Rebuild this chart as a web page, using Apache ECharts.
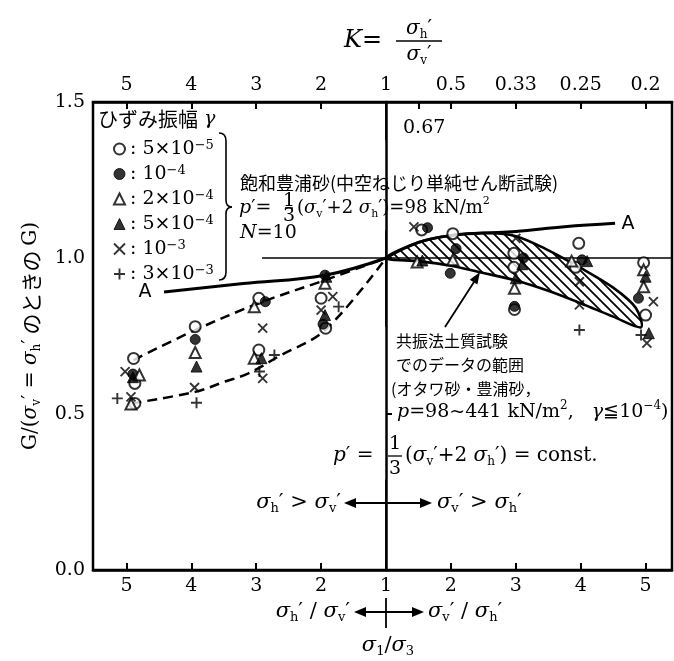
<!DOCTYPE html>
<html>
<head>
<meta charset="utf-8">
<script src="https://cdn.jsdelivr.net/npm/echarts@6/dist/echarts.min.js"></script>
<style>html,body{margin:0;padding:0;background:#fff}#c{width:674px;height:661px}</style>
</head>
<body>
<div id="c"></div>
<script>
const SERIF = "'DejaVu Serif','Liberation Serif',serif";
const JP = "'Noto Sans CJK JP',sans-serif";

// Horizontal axis: stress-ratio positions (left: sigma_h'/sigma_v', right: sigma_v'/sigma_h')
const tickPositions = [-4, -3, -2, -1, 0, 1, 2, 3, 4];
const bottomTickLabels = ['5', '4', '3', '2', '1', '2', '3', '4', '5'];
const topTickLabels = ['5', '4', '3', '2', '1', '0.5', '0.33', '0.25', '0.2'];
const extraTopTick = 0.5;
const extraTopLabel = '0.67';
const yTickLabels = ['0.0', '0.5', '1.0', '1.5'];

// Strain amplitude groups
const strainNames = ['5×10^-5', '10^-4', '2×10^-4', '5×10^-4', '10^-3', '3×10^-3'];
const strainRich = ['5×10{e|−5}', '10{e|−4}', '2×10{e|−4}', '5×10{e|−4}', '10{e|−3}', '3×10{e|−3}'];

// Measured G / G(K=1), hollow torsional simple shear, saturated Toyoura sand
const gamma5e5 = [[-3.89,0.678],[-3.87,0.598],[-3.87,0.534],[-2.94,0.78],[-1.96,0.871],[-1.96,0.705],[-1.0,0.871],[-0.93,0.775],[0.55,1.09],[1.03,1.078],[1.97,1.015],[1.97,0.97],[1.98,0.835],[2.97,1.047],[2.92,0.97],[3.97,0.985],[4.0,0.817]];
const gamma1e4 = [[-3.9,0.628],[-2.94,0.739],[-1.86,0.86],[-0.94,0.945],[-0.97,0.788],[0.64,1.097],[1.08,1.03],[0.99,0.951],[2.12,1.0],[1.98,0.845],[3.02,0.994],[3.89,0.871]];
const gamma2e4 = [[-3.8,0.625],[-3.93,0.532],[-2.94,0.697],[-2.03,0.844],[-2.03,0.679],[-0.94,0.919],[0.48,0.987],[1.03,0.994],[1.98,0.903],[2.86,0.99],[3.97,0.962],[3.97,0.908]];
const gamma5e4 = [[-3.9,0.618],[-2.92,0.652],[-1.92,0.679],[-0.92,0.94],[-0.94,0.817],[0.56,0.992],[2.1,0.98],[2.0,0.935],[3.1,0.99],[4.0,0.94],[4.05,0.759]];
const gamma1e3 = [[-4.02,0.636],[-3.93,0.555],[-2.95,0.585],[-1.9,0.775],[-1.9,0.614],[-0.82,0.876],[-1.0,0.833],[0.43,1.1],[2.0,1.063],[2.98,0.924],[2.98,0.85],[4.12,0.86],[4.02,0.727]];
const gamma3e3 = [[-4.14,0.55],[-2.92,0.536],[-1.72,0.689],[-1.95,0.636],[-0.73,0.844],[2.98,0.769],[3.93,0.753]];

// Dashed envelopes on the sigma_h' > sigma_v' side
const upperDashed = [[-3.89,0.673],[-2.94,0.769],[-1.96,0.855],[-0.94,0.929],[0,1.0]];
const lowerDashed = [[-3.92,0.534],[-2.94,0.571],[-2.48,0.604],[-2.12,0.63],[-1.66,0.684],[-0.94,0.769],[0,1.0]];

// Curve A
const curveALeft = [[-3.42,0.891],[-2.2,0.918],[-0.94,0.945],[0,1.0]];
const curveARight = [[0,1.0],[0.5,1.05],[1.0,1.072],[1.5,1.08],[2.0,1.085],[2.75,1.1],[3.53,1.111]];

// Range of resonant-column data (hatched band)
const bandUpper = [[0,1.0],[0.5,1.05],[1.0,1.072],[1.5,1.08],[2.0,1.07],[2.45,1.03],[3.0,0.968],[3.5,0.905],[3.85,0.84],[3.93,0.778]];
const bandLower = [[0,1.0],[0.5,0.99],[1.0,0.975],[1.5,0.952],[2.0,0.928],[2.5,0.895],[3.0,0.855],[3.5,0.812],[3.93,0.778]];

// Reference lines
const unityLine = [[-1.91,1.0],[4.407,1.0]];
const centerSegments = [[[0,1.5],[0,1.378]], [[0,1.088],[0,0.78]], [[0,0.29],[0,0]]];

const X_MIN = -4.515, X_MAX = 4.407;

// rich text styles (fill for graphic elements, color for option labels)
function richSet(base, jp) {
  const b = base || 19;
  const js = jp || b - 1;
  return {
    t: {fill:'#000', color:'#000', fontFamily:SERIF, fontSize:b, lineHeight:24},
    i: {fill:'#000', color:'#000', fontFamily:SERIF, fontStyle:'italic', fontSize:b, lineHeight:24},
    sb: {fill:'#000', color:'#000', fontFamily:SERIF, fontSize:Math.round(b*0.62), lineHeight:13, verticalAlign:'bottom'},
    sp: {fill:'#000', color:'#000', fontFamily:SERIF, fontSize:Math.round(b*0.62), lineHeight:13, verticalAlign:'top'},
    j: {fill:'#000', color:'#000', fontFamily:JP, fontSize:js, lineHeight:24},
    e: {fill:'#000', color:'#000', fontFamily:SERIF, fontSize:11, lineHeight:11, verticalAlign:'top'}
  };
}
const GR = richSet(19);
const sig = (s) => `{i|σ}{sb|${s}}{t|′}`;

function txt(x, y, text, align, rich) {
  return {type:'text', x:x, y:y, silent:true, z:50,
    style:{text:text, rich:rich || GR, align:align || 'left', verticalAlign:'middle', fill:'#000', font:`19px ${SERIF}`}};
}
function seg(x1, y1, x2, y2, w) {
  return {type:'line', silent:true, z:50, shape:{x1:x1, y1:y1, x2:x2, y2:y2}, style:{stroke:'#000', lineWidth:w || 2}};
}
function head(tx, ty, fx, fy, len, half) {
  len = len || 12; half = half || 5;
  const dx = tx - fx, dy = ty - fy, d = Math.hypot(dx, dy);
  const ux = dx / d, uy = dy / d;
  const bx = tx - ux * len, by = ty - uy * len;
  return {type:'polygon', silent:true, z:50,
    shape:{points:[[tx,ty],[bx - uy*half, by + ux*half],[bx + uy*half, by - ux*half]]},
    style:{fill:'#000'}};
}
function dblArrow(x1, x2, y) {
  return [seg(x1 + 6, y, x2 - 6, y, 2.2), head(x1, y, x2, y), head(x2, y, x1, y)];
}
function fraction(cx, y, num, den, w, size) {
  const r = richSet(size);
  return [
    txt(cx, y - size * 0.62, num, 'center', r),
    seg(cx - w / 2, y, cx + w / 2, y, 1.3),
    txt(cx, y + size * 0.7, den, 'center', r)
  ];
}
function brace(x, top, mid, bot) {
  const s = {stroke:'#000', lineWidth:1.6, fill:null};
  const q = (x1,y1,cx,cy,x2,y2) => ({type:'bezierCurve', silent:true, z:50, shape:{x1:x1,y1:y1,x2:x2,y2:y2,cpx1:cx,cpy1:cy}, style:s});
  return [
    q(x-7, top, x, top, x, top+8),
    seg(x, top+8, x, mid-7, 1.6),
    q(x, mid-7, x, mid, x+6, mid),
    q(x+6, mid, x, mid, x, mid+7),
    seg(x, mid+7, x, bot-8, 1.6),
    q(x, bot-8, x, bot, x-7, bot)
  ];
}

// hatch tile: "\" diagonals
const tile = document.createElement('canvas');
tile.width = 10; tile.height = 10;
(function () {
  const c = tile.getContext('2d');
  c.strokeStyle = '#000'; c.lineWidth = 1.7;
  c.beginPath();
  c.moveTo(0, 0); c.lineTo(10, 10);
  c.moveTo(9, -1); c.lineTo(11, 1);
  c.moveTo(-1, 9); c.lineTo(1, 11);
  c.stroke();
})();

const symbols = ['circle', 'circle', 'triangle', 'triangle', 'path://M0,0L10,10M10,0L0,10', 'path://M5,0L5,10M0,5L10,5'];
const symSize = [11, 10, 11, 11, 9, 11];
const styles = [
  {color:'#fff', borderColor:'#000', borderWidth:2},
  {color:'#000', borderColor:'#000', borderWidth:1},
  {color:'#fff', borderColor:'#000', borderWidth:2},
  {color:'#000', borderColor:'#000', borderWidth:1},
  {color:'rgba(0,0,0,0)', borderColor:'#000', borderWidth:1.9},
  {color:'rgba(0,0,0,0)', borderColor:'#000', borderWidth:1.9}
];
const pointSets = [gamma5e5, gamma1e4, gamma2e4, gamma5e4, gamma1e3, gamma3e3];

function lineSeries(data, opts) {
  return Object.assign({type:'line', data:data, showSymbol:false, symbol:'none', silent:true, z:3,
    lineStyle:{color:'#000', width:2.5}}, opts || {});
}

const series = [];
series.push({
  type:'custom', silent:true, z:2, data:[[0,1]],
  renderItem: function (params, api) {
    const up = bandUpper.map(d => api.coord(d));
    const lo = bandLower.slice(1, -1).reverse().map(d => api.coord(d));
    return {type:'polygon', shape:{points:up.concat(lo), smooth:0.3},
      style:{fill:{image:tile, repeat:'repeat'}, stroke:'#000', lineWidth:2.6}};
  }
});
series.push(lineSeries(curveALeft, {smooth:0.4, lineStyle:{color:'#000', width:3}}));
series.push(lineSeries(curveARight, {smooth:0.4, lineStyle:{color:'#000', width:3}}));
series.push(lineSeries(upperDashed, {smooth:0.35, lineStyle:{color:'#000', width:2.5, type:[10,6]}}));
series.push(lineSeries(lowerDashed, {smooth:0.35, lineStyle:{color:'#000', width:2.5, type:[10,6]}}));
series.push(lineSeries(unityLine, {lineStyle:{color:'#000', width:1.6}}));
centerSegments.forEach(s => series.push(lineSeries(s, {lineStyle:{color:'#000', width:1.8}})));
pointSets.forEach((d, k) => series.push({
  type:'scatter', name:strainNames[k], data:d, symbol:symbols[k], symbolSize:symSize[k],
  itemStyle:styles[k], z:10, silent:true
}));

const axisFont = {color:'#000', fontFamily:SERIF, fontSize:19};

const option = {
  backgroundColor:'#fff',
  animation:false,
  grid:{left:93, right:2, top:102, bottom:91, show:true, borderColor:'#000', borderWidth:2.5, backgroundColor:'rgba(0,0,0,0)'},
  legend:{
    orient:'vertical', left:108, top:134, itemWidth:11, itemHeight:11, itemGap:5,
    selectedMode:false,
    data:strainNames.map((n, k) => ({name:n, icon:symbols[k], itemStyle:styles[k]})),
    formatter:(name) => '{t|: }' + strainRich[strainNames.indexOf(name)],
    textStyle:{color:'#000', fontFamily:SERIF, fontSize:19, lineHeight:20, rich:{
      t:{color:'#000', fontFamily:SERIF, fontSize:19, lineHeight:20},
      e:{color:'#000', fontFamily:SERIF, fontSize:13, lineHeight:12, verticalAlign:'top'}
    }}
  },
  xAxis:[
    {type:'value', position:'bottom', min:X_MIN, max:X_MAX,
      axisLine:{show:true, onZero:false, lineStyle:{color:'#000', width:2.5}},
      axisTick:{show:true, inside:true, length:7, customValues:tickPositions, lineStyle:{color:'#000', width:2}},
      axisLabel:Object.assign({customValues:tickPositions, margin:7,
        formatter:(v) => { const k = tickPositions.indexOf(Math.round(v)); return k < 0 ? '' : bottomTickLabels[k]; }}, axisFont),
      splitLine:{show:false}},
    {type:'value', position:'top', min:X_MIN, max:X_MAX,
      axisLine:{show:true, onZero:false, lineStyle:{color:'#000', width:2.5}},
      axisTick:{show:true, inside:true, length:7, customValues:tickPositions.concat([extraTopTick]), lineStyle:{color:'#000', width:2}},
      axisLabel:Object.assign({customValues:tickPositions, margin:7,
        formatter:(v) => { const k = tickPositions.indexOf(Math.round(v)); return k < 0 ? '' : topTickLabels[k]; }}, axisFont),
      splitLine:{show:false}}
  ],
  yAxis:{type:'value', min:0, max:1.5, interval:0.5,
    axisLine:{show:true, lineStyle:{color:'#000', width:2.5}},
    axisTick:{show:true, inside:true, length:6, lineStyle:{color:'#000', width:2}},
    axisLabel:Object.assign({margin:8, formatter:(v) => yTickLabels[Math.round(v / 0.5)]}, axisFont),
    splitLine:{show:false},
    name:'{t|G/(}' + sig('v') + '{t| = }' + sig('h') + '{j| のときの }{t|G)}',
    nameLocation:'middle', nameRotate:90, nameGap:50,
    nameTextStyle:{rich:richSet(20, 21)}
  },
  series:series,
  graphic:[].concat(
    // K = sigma_h'/sigma_v'
    [txt(344, 41, '{i|K}{t|=}', 'left', richSet(24))],
    fraction(419, 41, sig('h'), sig('v'), 46, 20),
    [txt(403, 128, extraTopLabel, 'left', richSet(18))],
    // legend heading and brace
    [txt(98, 119, '{j|ひずみ振幅} {i|γ}', 'left', richSet(19, 20))],
    brace(226, 133, 207, 280),
    // test description
    [txt(240, 183, '{j|飽和豊浦砂(中空ねじり単純せん断試験)}', 'left', richSet(18, 18))],
    [txt(239, 208, '{i|p}{t|′=}', 'left', richSet(19))],
    fraction(289, 208, '1', '3', 8, 11),
    [txt(297, 208, '{t|(}' + sig('v') + '{t|+2 }' + sig('h') + '{t|)=98 kN/m}{sp|2}', 'left', richSet(18))],
    [txt(240, 233, '{i|N}{t|=10}', 'left', richSet(19))],
    // resonant-column range description
    [txt(396, 341, '{j|共振法土質試験}', 'left', richSet(19, 16))],
    [txt(396, 365, '{j|でのデータの範囲}', 'left', richSet(19, 16))],
    [txt(391, 389, '{j|(オタワ砂・豊浦砂，}', 'left', richSet(19, 16))],
    [txt(397, 412, '{i|p}{t|=98~441 kN/m}{sp|2}{t|,   }{i|γ}{t|≦10}{sp|−4}{t|)}', 'left', richSet(19))],
    [seg(445, 327, 474, 282, 1.8), head(480, 272, 445, 327, 12, 4.5)],
    [txt(333, 456, '{i|p}{t|′ =}', 'left', richSet(20))],
    fraction(395, 456, '1', '3', 14, 19),
    [txt(405, 456, '{t|(}' + sig('v') + '{t|+2 }' + sig('h') + '{t|) = const.}', 'left', richSet(20))],
    // loading direction
    [txt(341, 503, sig('h') + '{t| > }' + sig('v'), 'right', richSet(21))],
    dblArrow(344, 432, 503),
    [txt(437, 503, sig('v') + '{t| > }' + sig('h'), 'left', richSet(21))],
    // below the axis
    [seg(386, 598, 386, 628, 1.8)],
    [txt(350, 612, sig('h') + '{t| / }' + sig('v'), 'right', richSet(21))],
    dblArrow(354, 424, 612),
    [txt(428, 612, sig('v') + '{t| / }' + sig('h'), 'left', richSet(21))],
    [txt(388, 646, '{i|σ}{sb|1}{t|/}{i|σ}{sb|3}', 'center', richSet(21))],
    // curve labels
    [txt(145, 292, 'A', 'center', {t:{}}), txt(628, 224, 'A', 'center', {t:{}})].map(e => { e.style.font = `19px 'DejaVu Sans',sans-serif`; e.style.rich = undefined; return e; })
  )
};

const chart = echarts.init(document.getElementById('c'), null, {renderer:'canvas'});
chart.setOption(option);
</script>
</body>
</html>
